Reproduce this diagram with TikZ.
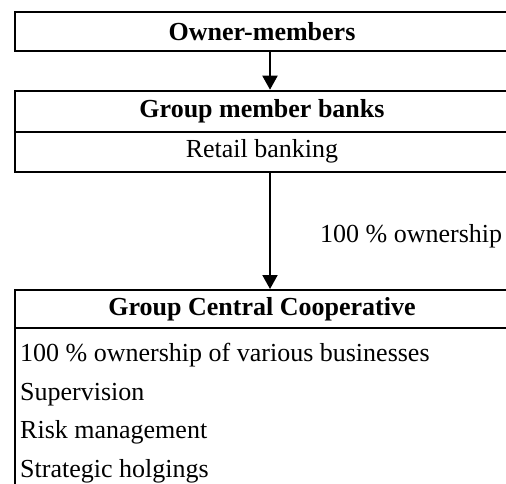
\documentclass[tikz,border=0pt]{standalone}
\usepackage{fontspec}
\setmainfont{Liberation Serif}
\usetikzlibrary{arrows.meta}
\begin{document}
\begin{tikzpicture}[x=1pt,y=-1pt,
  every node/.style={font=\fontsize{26}{30}\selectfont},
  box/.style={draw, line width=2pt, inner sep=0pt, minimum width=494pt},
  title/.style={box, font=\fontsize{26}{30}\selectfont\bfseries},
  item/.style={anchor=base west, inner sep=0pt},
  link/.style={line width=2pt, -{Triangle[width=15pt,length=14pt]}}]
\useasboundingbox (0,0) rectangle (506,483);
\node[title, minimum height=39pt] (owner) at (262,31.5) {Owner-members};
\node[title, minimum height=41pt] (banks) at (262,111.2) {Group member banks};
\node[box, minimum height=40pt] (retail) at (262,151.7) {Retail banking};
\node[title, minimum height=38pt] (central) at (262,309) {Group Central Cooperative};
\node[box, minimum height=172pt] (body) at (262,414) {};
\node[item] (i1) at (20,361.7) {100 \% ownership of various businesses};
\node[item] (i2) at (20,400) {Supervision};
\node[item] (i3) at (20,438.3) {Risk management};
\node[item] (i4) at (20,477) {Strategic holgings};
\node[item] (lab) at (320,242) {100 \% ownership};
\draw[link] ([xshift=8pt]owner.south) -- ([xshift=8pt]banks.north);
\draw[link] ([xshift=8pt]retail.south) -- ([xshift=8pt]central.north);
\end{tikzpicture}
\end{document}
